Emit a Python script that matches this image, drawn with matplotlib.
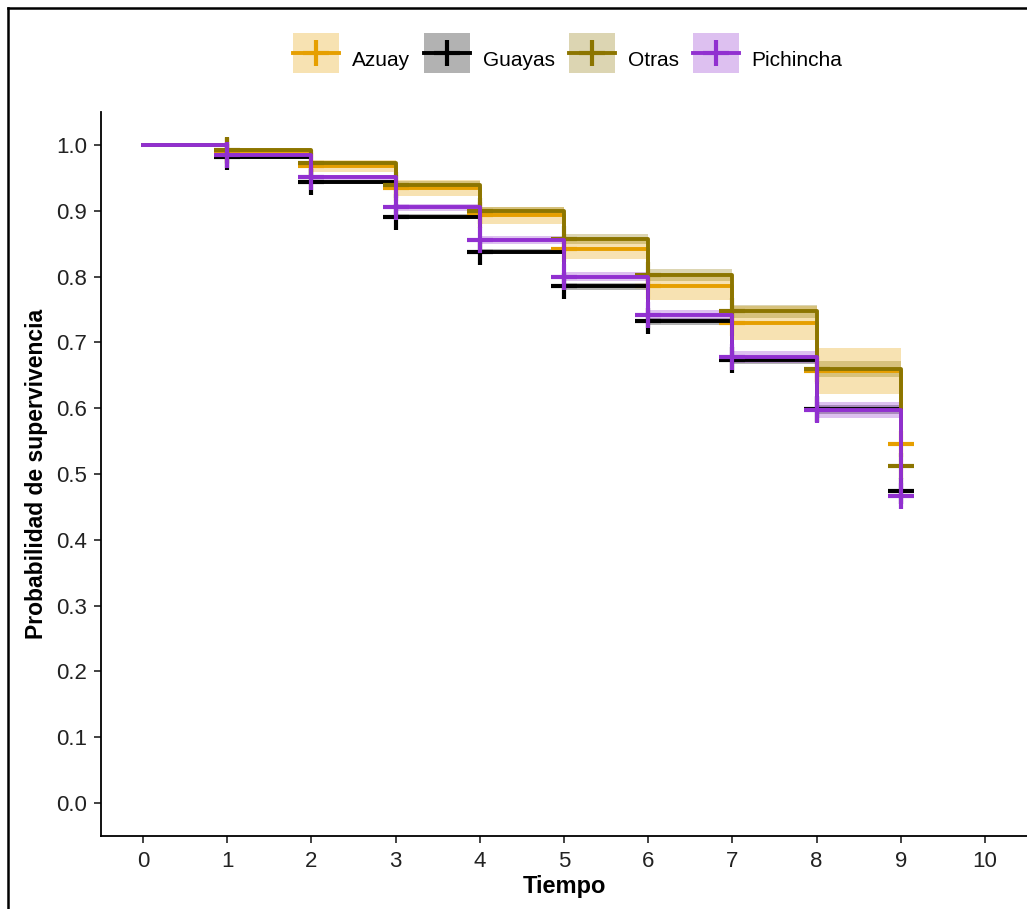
import numpy as np
import matplotlib
matplotlib.use("Agg")
import matplotlib.pyplot as plt
from matplotlib.lines import Line2D
from matplotlib.patches import Patch, Rectangle
from matplotlib.legend_handler import HandlerPatch

plt.rcParams['font.family'] = ['Liberation Sans', 'DejaVu Sans']

tiempo = [0, 1, 2, 3, 4, 5, 6, 7, 8, 9]
grupos = ["Azuay", "Guayas", "Otras", "Pichincha"]
colores = ["#E69F00", "#000000", "#8C7500", "#9130D0"]

surv_azuay = [1.0, 0.990, 0.968, 0.934, 0.893, 0.842, 0.785, 0.729, 0.656, 0.545]
surv_guayas = [1.0, 0.981, 0.943, 0.891, 0.838, 0.785, 0.732, 0.673, 0.598, 0.474]
surv_otras = [1.0, 0.992, 0.972, 0.939, 0.899, 0.857, 0.802, 0.747, 0.659, 0.512]
surv_pichincha = [1.0, 0.984, 0.951, 0.905, 0.856, 0.800, 0.741, 0.678, 0.597, 0.466]

# half width of the confidence band at each step
ic_azuay = [0.0, 0.005, 0.009, 0.012, 0.013, 0.015, 0.020, 0.026, 0.035, 0.0]
ic_guayas = [0.0, 0.002, 0.003, 0.004, 0.004, 0.005, 0.005, 0.006, 0.007, 0.0]
ic_otras = [0.0, 0.003, 0.004, 0.006, 0.007, 0.008, 0.009, 0.010, 0.012, 0.0]
ic_pichincha = [0.0, 0.003, 0.004, 0.005, 0.006, 0.007, 0.008, 0.009, 0.012, 0.0]

curvas = [surv_azuay, surv_guayas, surv_otras, surv_pichincha]
bandas = [ic_azuay, ic_guayas, ic_otras, ic_pichincha]

fig = plt.figure(figsize=(10.27, 9.09), dpi=100)
ax = fig.add_axes([101 / 1027, 73 / 909, 926 / 1027, 724 / 909])

for s, ic, c in zip(curvas, bandas, colores):
    s = np.array(s)
    ic = np.array(ic)
    ax.fill_between(tiempo, s - ic, s + ic, step='post', color=c, alpha=0.3, lw=0)

for s, c in zip(curvas, colores):
    ax.step(tiempo, s, where='post', color=c, lw=2.8)
    ax.plot(tiempo[1:], s[1:], ls='none', marker='+', color=c, ms=19, mew=3.0)

ax.set_xlim(-0.5, 10.5)
ax.set_ylim(-0.05, 1.05)
ax.set_xticks(range(0, 11))
ax.set_yticks(np.arange(0, 1.01, 0.1))
ax.set_yticklabels([f"{v:.1f}" for v in np.arange(0, 1.01, 0.1)])
ax.tick_params(labelsize=16, length=5, width=1.2, colors='#222222')
ax.tick_params(axis='x', pad=6)
ax.tick_params(axis='y', pad=5)
for sp in ['top', 'right']:
    ax.spines[sp].set_visible(False)
for sp in ['left', 'bottom']:
    ax.spines[sp].set_linewidth(1.3)

ax.set_xlabel("Tiempo", fontsize=17, fontweight='bold', labelpad=2)
ax.set_ylabel("Probabilidad de supervivencia", fontsize=16.5, fontweight='bold', labelpad=6)


def caja_centrada(legend, orig_handle, xdescent, ydescent, width, height, fontsize):
    # key box centred on the line drawn by the Line2D handler
    yc = (height - ydescent) / 2
    return Rectangle((-xdescent, yc - height / 2), width, height)


handles = []
for c in colores:
    handles.append((Patch(facecolor=c, alpha=0.3, lw=0),
                    Line2D([], [], color=c, lw=2.8, marker='+', ms=19, mew=3.0)))
fig.legend(handles, grupos, loc='center', bbox_to_anchor=(0.553, 1 - 60 / 909),
           ncol=4, frameon=False, fontsize=15, handlelength=2.2, handleheight=2.6,
           handletextpad=0.6, columnspacing=0.7,
           handler_map={Patch: HandlerPatch(patch_func=caja_centrada)})

# outer frame of the picture
fig.add_artist(Line2D([8 / 1027, 8 / 1027], [0, 1 - 8 / 909], color='black', lw=1.8))
fig.add_artist(Line2D([8 / 1027, 1], [1 - 8 / 909, 1 - 8 / 909], color='black', lw=1.8))

fig.savefig("out.png", dpi=100)
